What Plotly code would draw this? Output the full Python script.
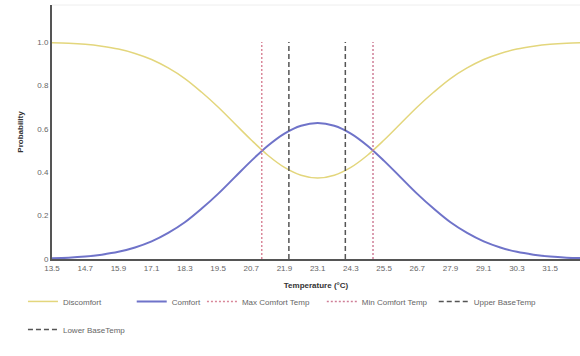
import plotly.graph_objects as go

# Temperature grid (°C) and probability curves
temperature = [13.5, 14.1, 14.7, 15.3, 15.9, 16.5, 17.1, 17.7, 18.3, 18.9, 19.5,
               20.1, 20.7, 21.3, 21.9, 22.5, 23.1, 23.7, 24.3, 24.9, 25.5, 26.1,
               26.7, 27.3, 27.9, 28.5, 29.1, 29.7, 30.3, 30.9, 31.5, 32.1, 32.7]

comfort = [0.004, 0.006, 0.011, 0.020, 0.033, 0.053, 0.081, 0.120, 0.169, 0.231, 0.300,
           0.376, 0.452, 0.522, 0.578, 0.614, 0.627, 0.614, 0.578, 0.522, 0.452, 0.376,
           0.300, 0.231, 0.169, 0.120, 0.081, 0.053, 0.033, 0.020, 0.011, 0.006, 0.004]

discomfort = [0.996, 0.994, 0.989, 0.980, 0.967, 0.947, 0.919, 0.880, 0.831, 0.769, 0.700,
              0.624, 0.548, 0.478, 0.422, 0.386, 0.373, 0.386, 0.422, 0.478, 0.548, 0.624,
              0.700, 0.769, 0.831, 0.880, 0.919, 0.947, 0.967, 0.980, 0.989, 0.994, 0.996]

# Reference temperatures drawn as vertical markers
max_comfort_temp = 21.08
min_comfort_temp = 25.1
upper_base_temp = 24.1
lower_base_temp = 22.06

x_ticks = [13.5, 14.7, 15.9, 17.1, 18.3, 19.5, 20.7, 21.9, 23.1, 24.3, 25.5,
           26.7, 27.9, 29.1, 30.3, 31.5]
y_ticks = [0, 0.2, 0.4, 0.6, 0.8, 1.0]
y_tick_text = ["0", "0.2", "0.4", "0.6", "0.8", "1.0"]

fig = go.Figure()

fig.add_trace(go.Scatter(x=temperature, y=discomfort, name="Discomfort", mode="lines",
                         legend="legend",
                         line=dict(color="#e3d67c", width=1.5, shape="spline")))
fig.add_trace(go.Scatter(x=temperature, y=comfort, name="Comfort", mode="lines",
                         legend="legend2",
                         line=dict(color="#6f73c9", width=2, shape="spline")))

markers = [
    ("Max Comfort Temp", max_comfort_temp, "#d9889a", "2px,2px", "legend3"),
    ("Min Comfort Temp", min_comfort_temp, "#cf7f98", "2px,2px", "legend4"),
    ("Upper BaseTemp", upper_base_temp, "#555555", "5px,3px", "legend5"),
    ("Lower BaseTemp", lower_base_temp, "#555555", "5px,3px", "legend6"),
]
for name, t, color, dash, lg in markers:
    fig.add_trace(go.Scatter(x=[t, t], y=[0, 1.0], name=name, mode="lines", legend=lg,
                             line=dict(color=color, width=1.5, dash=dash)))

legend_font = dict(size=8, color="#666666")


def legend_box(x, y):
    return dict(x=x, y=y, xanchor="left", yanchor="top", orientation="h",
                font=legend_font, bgcolor="rgba(0,0,0,0)")


fig.update_layout(
    width=580, height=356,
    margin=dict(l=52, r=0, t=5, b=97),
    paper_bgcolor="white", plot_bgcolor="white",
    font=dict(family="Liberation Sans, Arial, sans-serif", size=8, color="#666666"),
    showlegend=True,
    legend=legend_box(-0.055, -0.11),
    legend2=legend_box(0.151, -0.11),
    legend3=legend_box(0.284, -0.11),
    legend4=legend_box(0.511, -0.11),
    legend5=legend_box(0.723, -0.11),
    legend6=legend_box(-0.055, -0.22),
    xaxis=dict(range=[13.5, 32.58], tickvals=x_ticks, ticktext=[f"{v:.1f}" for v in x_ticks],
               showgrid=False, zeroline=False, showline=True, linecolor="#555555",
               linewidth=2, ticks="", tickfont=dict(size=8, color="#666666"),
               title=dict(text="<b>Temperature (°C)</b>", font=dict(size=8, color="#333333"),
                          standoff=11)),
    yaxis=dict(range=[0, 1.17], tickvals=y_ticks, ticktext=y_tick_text,
               showgrid=False, zeroline=False, showline=True, linecolor="#555555",
               linewidth=2, ticks="", tickfont=dict(size=8, color="#666666"),
               title=dict(text="<b>Probability</b>", font=dict(size=8, color="#333333"),
                          standoff=12)),
)

# faint frame line along the top of the plotting area
fig.add_shape(type="line", xref="paper", yref="paper", x0=0, x1=1, y0=1, y1=1,
              line=dict(color="#eeeeee", width=1))

fig.write_html("out.html")
